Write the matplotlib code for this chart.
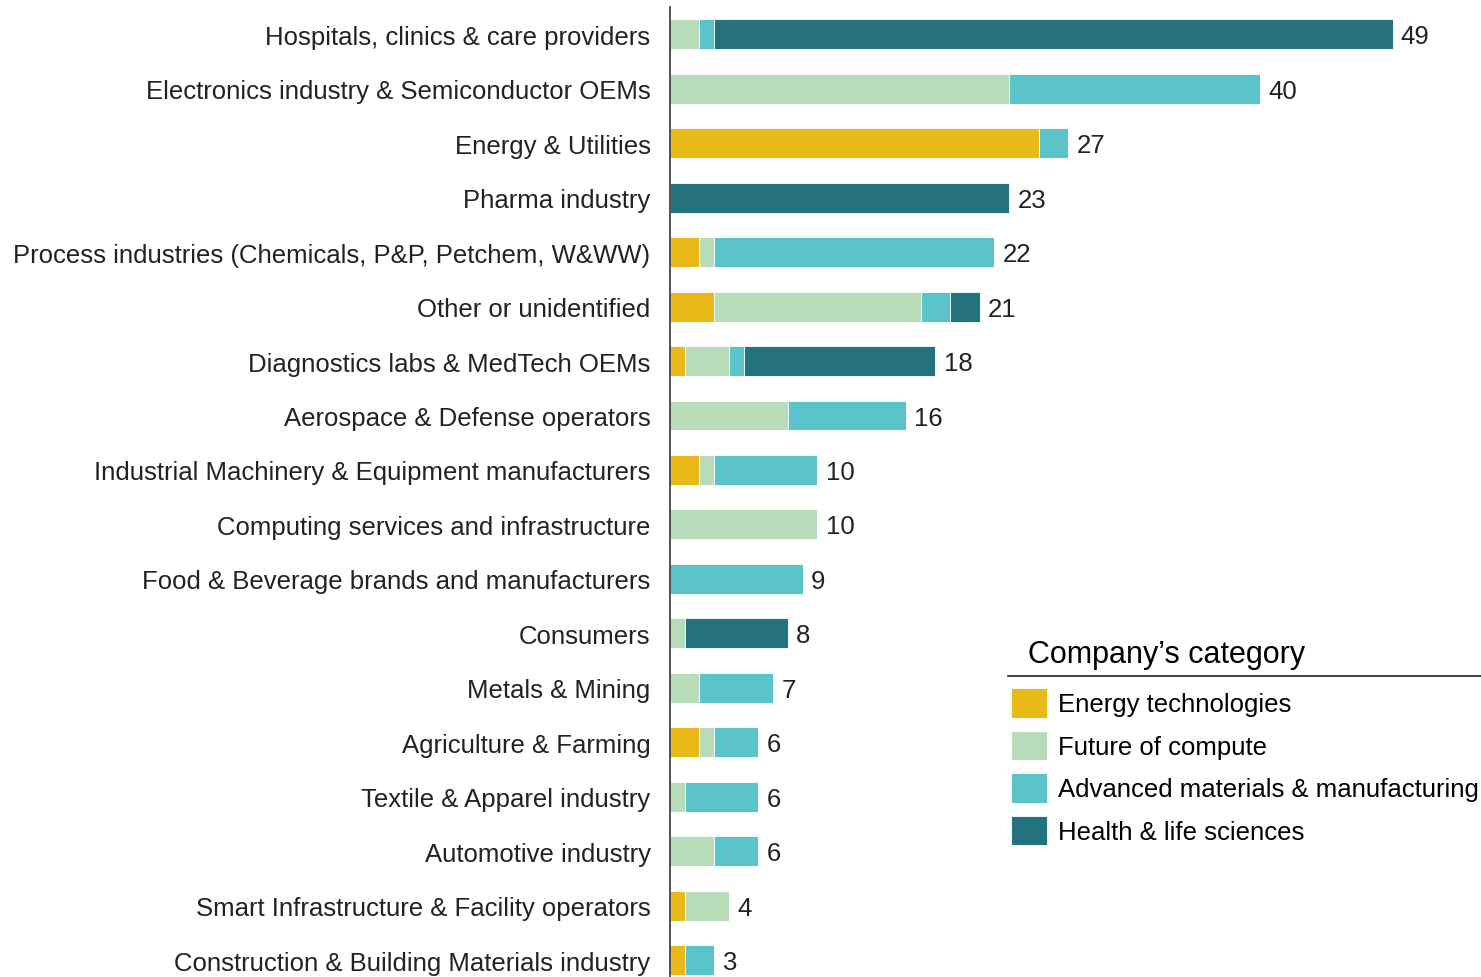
import matplotlib.pyplot as plt
from matplotlib.lines import Line2D

plt.rcParams['font.family'] = ['Liberation Sans', 'DejaVu Sans']

industries = ['Hospitals, clinics & care providers',
              'Electronics industry & Semiconductor OEMs',
              'Energy & Utilities',
              'Pharma industry',
              'Process industries (Chemicals, P&P, Petchem, W&WW)',
              'Other or unidentified',
              'Diagnostics labs & MedTech OEMs',
              'Aerospace & Defense operators',
              'Industrial Machinery & Equipment manufacturers',
              'Computing services and infrastructure',
              'Food & Beverage brands and manufacturers',
              'Consumers',
              'Metals & Mining',
              'Agriculture & Farming',
              'Textile & Apparel industry',
              'Automotive industry',
              'Smart Infrastructure & Facility operators',
              'Construction & Building Materials industry']

categories = ['Energy technologies', 'Future of compute',
              'Advanced materials & manufacturing', 'Health & life sciences']

energy   = [0, 0, 25, 0, 2, 3, 1, 0, 2, 0, 0, 0, 0, 2, 0, 0, 1, 1]
compute  = [2, 23, 0, 0, 1, 14, 3, 8, 1, 10, 0, 1, 2, 1, 1, 3, 3, 0]
advanced = [1, 17, 2, 0, 19, 2, 1, 8, 7, 0, 9, 0, 5, 3, 5, 3, 0, 2]
health   = [46, 0, 0, 23, 0, 2, 13, 0, 0, 0, 0, 7, 0, 0, 0, 0, 0, 0]

colors = ['#E9B819', '#B8DCB9', '#5BC4CA', '#23727E']

fig = plt.figure(figsize=(14.81, 9.78), dpi=100)
ax = fig.add_axes([670/1481, 0, 1 - 670/1481, 1 - 8/978])

ypos = list(range(len(industries)))
left = [0]*len(industries)
for vals, col, name in zip([energy, compute, advanced, health], colors, categories):
    ax.barh(ypos, vals, left=left, height=0.55, color=col, label=name,
            edgecolor='white', linewidth=0.6)
    left = [l + v for l, v in zip(left, vals)]

for y, tot in zip(ypos, left):
    ax.annotate(str(tot), (tot, y), xytext=(6, -1.5), textcoords='offset points',
                va='center', ha='left', fontsize=18.5, color='#222222')

ax.set_yticks(ypos)
ax.set_yticklabels(industries, fontsize=18.5, color='#222222')
ax.tick_params(axis='y', length=0, pad=14)
ax.set_xticks([])
ax.set_xlim(0, 55)
ax.set_ylim(17.31, -0.5)
for s in ['top', 'right', 'bottom']:
    ax.spines[s].set_visible(False)
ax.spines['left'].set_color('#333333')
ax.spines['left'].set_linewidth(1.2)

# legend with a separate underlined title
fig.text(1028/1481, 1 - 655/978, "Company\u2019s category", fontsize=22,
         va='center', ha='left', color='black')
fig.add_artist(Line2D([1008/1481, 1.0], [1 - 677/978, 1 - 677/978],
                      transform=fig.transFigure, color='#222222', linewidth=1.2))
leg = ax.legend(loc='upper left', bbox_to_anchor=(1011/1481, 1 - 689/978),
                bbox_transform=fig.transFigure, frameon=False, fontsize=18.5,
                handlelength=1.42, handleheight=1.4, handletextpad=0.42,
                labelspacing=0.5, borderpad=0, borderaxespad=0)

fig.savefig('out.png', dpi=100)
